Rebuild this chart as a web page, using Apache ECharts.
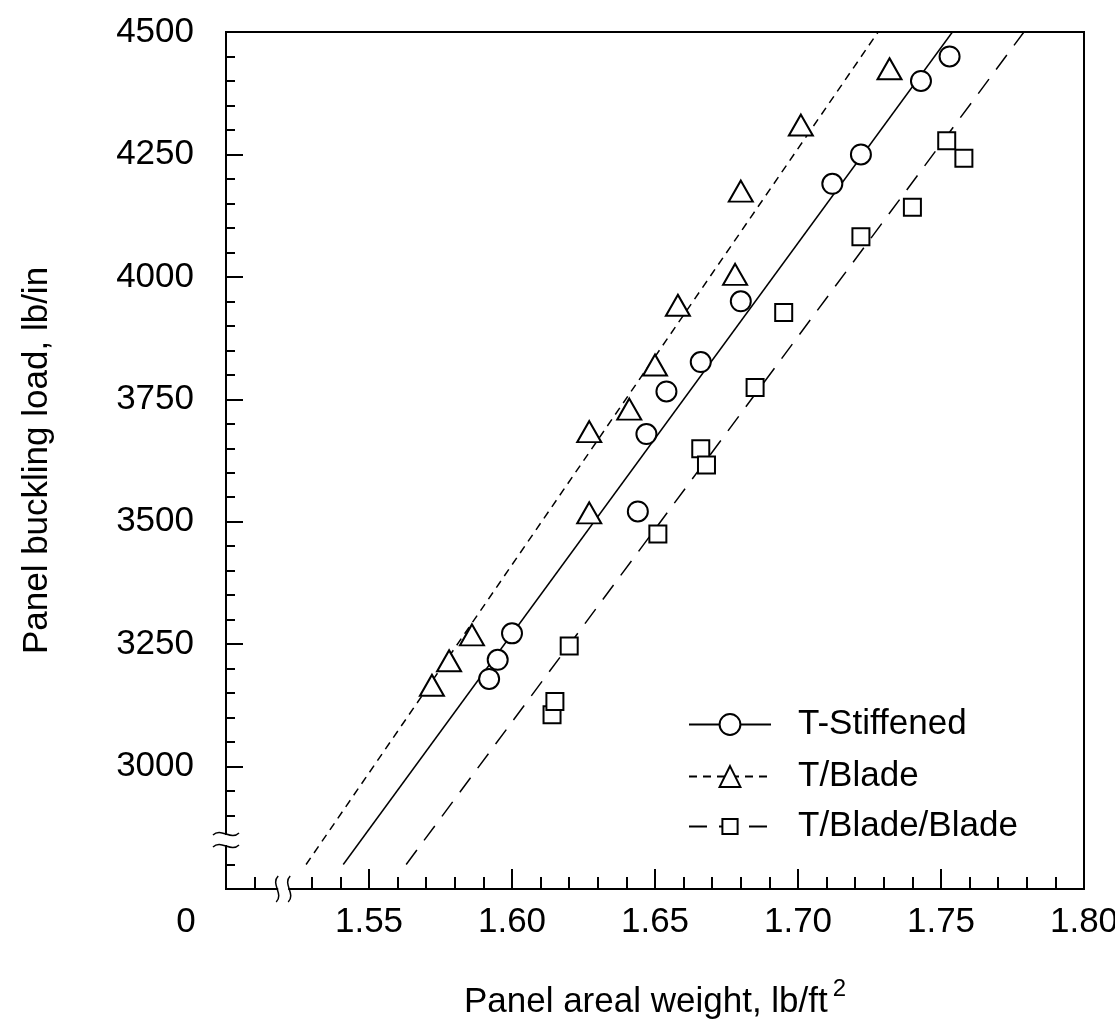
<!DOCTYPE html>
<html>

<head>
    <meta charset="utf-8">
    <title>Panel buckling load vs areal weight</title>
    <script src="https://cdn.jsdelivr.net/npm/echarts@6.0.0/dist/echarts.min.js"></script>
    <style>
        body { margin: 0; background: #fff; }
    </style>
</head>

<body>
    <div id="main" style="width: 1115px;height:1025px;"></div>
    <script type="text/javascript">
        // axis ticks (first one is the broken "0" origin)
        var xTicks = [1.50, 1.55, 1.60, 1.65, 1.70, 1.75, 1.80];
        var yTicks = [2750, 3000, 3250, 3500, 3750, 4000, 4250, 4500];
        var breakWeight = 1.52;
        var breakLoad = 2850;

        // T-Stiffened
        var stiffWeight = [1.592, 1.595, 1.600, 1.644, 1.647, 1.654, 1.666, 1.680, 1.712, 1.722, 1.743, 1.753];
        var stiffLoad = [3179, 3218, 3272, 3521, 3679, 3766, 3826, 3950, 4190, 4250, 4400, 4450];

        // T/Blade
        var bladeWeight = [1.572, 1.578, 1.586, 1.627, 1.627, 1.641, 1.650, 1.658, 1.678, 1.680, 1.701, 1.732];
        var bladeLoad = [3166, 3216, 3269, 3518, 3684, 3730, 3820, 3942, 4005, 4175, 4310, 4425];

        // T/Blade/Blade
        var bbWeight = [1.614, 1.615, 1.620, 1.651, 1.666, 1.668, 1.685, 1.695, 1.722, 1.740, 1.752, 1.758];
        var bbLoad = [3106, 3133, 3246, 3475, 3649, 3616, 3774, 3927, 4082, 4142, 4278, 4242];

        // fitted lines, end points
        var fitLoad = [2800, 4500];
        var stiffFitWeight = [1.541, 1.754];
        var bladeFitWeight = [1.528, 1.728];
        var bbFitWeight = [1.563, 1.779];

        var names = ['T-Stiffened', 'T/Blade', 'T/Blade/Blade'];

        var FONT = 'Liberation Sans';

        function pairs(xs, ys) {
            return xs.map(function (x, i) { return [x, ys[i]]; });
        }

        function fitLine(name, xs, dash, symbol) {
            return {
                name: name,
                type: 'line',
                data: pairs(xs, fitLoad),
                symbol: symbol,
                showSymbol: false,
                silent: true,
                z: 2,
                lineStyle: { color: '#000', width: 1.5, type: dash },
                itemStyle: { color: '#fff', borderColor: '#000', borderWidth: 2 }
            };
        }

        function points(name, xs, ys, symbol, size) {
            return {
                name: name,
                type: 'scatter',
                data: pairs(xs, ys),
                symbol: symbol,
                symbolSize: size,
                z: 3,
                itemStyle: { color: '#fff', borderColor: '#000', borderWidth: 2, opacity: 1 }
            };
        }

        function legendRow(name, top, h) {
            return {
                data: [name],
                orient: 'vertical',
                left: 688,
                top: top,
                padding: 0,
                itemWidth: 82,
                itemHeight: h,
                selectedMode: false,
                textStyle: { fontSize: 35, fontFamily: FONT, color: '#000', padding: [0, 0, 0, 22] }
            };
        }

        var myChart = echarts.init(document.getElementById('main'));

        var option = {
            animation: false,
            backgroundColor: '#fff',
            grid: {
                left: 226,
                right: 31,
                top: 32,
                bottom: 136,
                show: true,
                borderColor: '#000',
                borderWidth: 2,
                outerBoundsMode: 'none'
            },
            legend: [
                legendRow(names[0], 707, 26),
                legendRow(names[1], 759, 26),
                legendRow(names[2], 809, 19)
            ],
            xAxis: {
                type: 'value',
                min: xTicks[0],
                max: xTicks[xTicks.length - 1],
                interval: 0.05,
                name: '{m|Panel areal weight, lb/ft}{sup|2}',
                nameLocation: 'middle',
                nameGap: 88,
                nameTextStyle: {
                    rich: {
                        m: { fontSize: 35, fontFamily: FONT, color: '#000', lineHeight: 50 },
                        sup: { fontSize: 24, fontFamily: FONT, color: '#000', lineHeight: 24, verticalAlign: 'top', padding: [0, 0, 0, 5] }
                    }
                },
                axisLine: { lineStyle: { color: '#000', width: 2 } },
                axisTick: { inside: true, length: 20, lineStyle: { color: '#000', width: 2 } },
                minorTick: { show: true, splitNumber: 5, length: 12, lineStyle: { color: '#000', width: 2 } },
                splitLine: { show: false },
                axisLabel: {
                    margin: 16,
                    fontSize: 35,
                    fontFamily: FONT,
                    color: '#000',
                    showMinLabel: true,
                    showMaxLabel: true,
                    formatter: function (v) {
                        return Math.abs(v - xTicks[0]) < 1e-9 ? '{o|0}' : v.toFixed(2);
                    },
                    rich: {
                        o: { fontSize: 35, fontFamily: FONT, color: '#000', padding: [0, 80, 0, 0] }
                    }
                }
            },
            yAxis: {
                type: 'value',
                min: yTicks[0],
                max: yTicks[yTicks.length - 1],
                interval: 250,
                name: 'Panel buckling load, lb/in',
                nameLocation: 'middle',
                nameGap: 171,
                nameTextStyle: { fontSize: 35, fontFamily: FONT, color: '#000' },
                axisLine: { lineStyle: { color: '#000', width: 2 } },
                axisTick: { inside: true, length: 17, lineStyle: { color: '#000', width: 2 } },
                minorTick: { show: true, splitNumber: 5, length: 9, lineStyle: { color: '#000', width: 2 } },
                splitLine: { show: false },
                axisLabel: {
                    margin: 32,
                    fontSize: 35,
                    fontFamily: FONT,
                    color: '#000',
                    formatter: function (v) {
                        return v < yTicks[1] ? '' : String(v);
                    }
                }
            },
            series: [
                fitLine(names[0], stiffFitWeight, 'solid', 'circle'),
                fitLine(names[1], bladeFitWeight, [8, 6], 'triangle'),
                fitLine(names[2], bbFitWeight, [18, 12], 'rect'),
                points(names[0], stiffWeight, stiffLoad, 'circle', 20),
                points(names[1], bladeWeight, bladeLoad, 'triangle', [24, 21]),
                points(names[2], bbWeight, bbLoad, 'rect', 17)
            ]
        };

        myChart.setOption(option);

        // axis break marks, placed through the axis scales
        var yb = myChart.convertToPixel({ gridIndex: 0 }, [xTicks[0], breakLoad]);
        var xb = myChart.convertToPixel({ gridIndex: 0 }, [breakWeight, yTicks[0]]);
        var ink = { stroke: '#000', lineWidth: 1.5, fill: null };

        function tildeH(cx, cy) {
            return {
                type: 'bezierCurve', z: 101,
                shape: { x1: cx - 13, y1: cy + 1, cpx1: cx - 5, cpy1: cy - 7, cpx2: cx + 5, cpy2: cy + 7, x2: cx + 13, y2: cy - 1 },
                style: ink
            };
        }

        function tildeV(cx, cy) {
            return {
                type: 'bezierCurve', z: 101,
                shape: { x1: cx + 1, y1: cy - 13, cpx1: cx - 7, cpy1: cy - 5, cpx2: cx + 7, cpy2: cy + 5, x2: cx - 1, y2: cy + 13 },
                style: ink
            };
        }

        myChart.setOption({
            graphic: [
                { type: 'rect', z: 100, shape: { x: yb[0] - 14, y: yb[1] - 5, width: 28, height: 10 }, style: { fill: '#fff' } },
                tildeH(yb[0], yb[1] - 6),
                tildeH(yb[0], yb[1] + 6),
                { type: 'rect', z: 100, shape: { x: xb[0] - 5, y: xb[1] - 14, width: 10, height: 18 }, style: { fill: '#fff' } },
                tildeV(xb[0] - 6, xb[1]),
                tildeV(xb[0] + 6, xb[1])
            ]
        });
    </script>
</body>

</html>
